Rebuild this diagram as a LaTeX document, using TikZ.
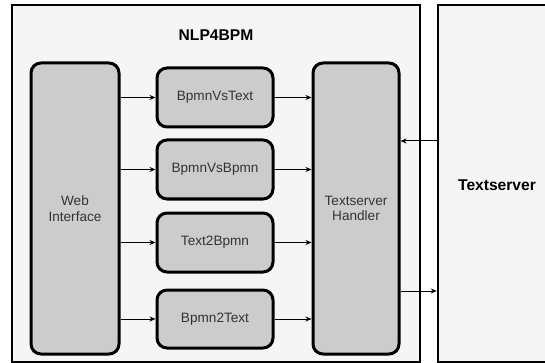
\documentclass[tikz,border=0pt]{standalone}
\usepackage{fontspec}
\setmainfont{Liberation Sans}
\usepackage{xcolor}
\usetikzlibrary{arrows.meta}
\definecolor{panelgray}{HTML}{F5F5F5}
\definecolor{boxgray}{HTML}{CCCCCC}
\definecolor{textgray}{HTML}{333333}
\tikzset{
  panel/.style={rectangle, draw, line width=2.5pt, fill=panelgray, inner sep=0pt},
  module/.style={rectangle, rounded corners=10pt, draw, line width=3pt, fill=boxgray,
    text=textgray, align=center, font=\fontsize{13.6}{15.5}\selectfont, inner sep=0pt},
  title/.style={font=\bfseries\fontsize{15.6}{18}\selectfont},
  flow/.style={line width=1pt, -{Stealth[length=6pt,width=5pt]}}
}
\begin{document}
\begin{tikzpicture}[x=1pt,y=-1pt]
\clip (0,0) rectangle (545,363);
\fill[white] (0,0) rectangle (545,363);
\node at (216,183.5) [panel, minimum width=408pt, minimum height=357pt] (nlp) {};
\node at (216,35) [title] (nlptitle) {NLP4BPM};
\node at (499,183.5) [panel, minimum width=122pt, minimum height=357pt] (server) {};
\node at (497,185) [title] (servertitle) {Textserver};
\node at (75,208.5) [module, minimum width=88pt, minimum height=291pt] (web) {Web\\Interface};
\node at (356,208.5) [module, minimum width=86pt, minimum height=291pt] (handler) {Textserver\\Handler};
\node at (215,97.5) [module, minimum width=116pt, minimum height=59pt] (vstext) {BpmnVsText};
\node at (215,169.5) [module, minimum width=116pt, minimum height=59pt] (vsbpmn) {BpmnVsBpmn};
\node at (215,242.5) [module, minimum width=116pt, minimum height=59pt] (text2bpmn) {Text2Bpmn};
\node at (215,319) [module, minimum width=116pt, minimum height=58pt] (bpmn2text) {Bpmn2Text};
\foreach \m in {vstext,vsbpmn,text2bpmn,bpmn2text}{
  \draw[flow] (web.east |- \m.west) -- (\m.west);
  \draw[flow] (\m.east) -- (\m.east -| handler.west);
}
\coordinate (request) at ([yshift=67.5pt]handler.east);
\coordinate (reply) at ([yshift=-82.5pt]handler.east);
\draw[flow] (server.west |- request) -- (request);
\draw[flow] (reply) -- (reply -| server.west);
\end{tikzpicture}
\end{document}
